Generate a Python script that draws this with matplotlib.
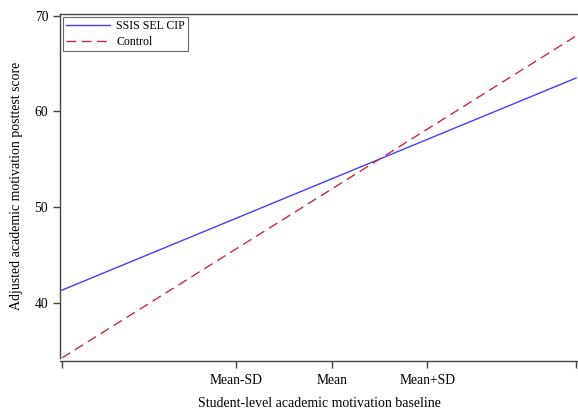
import numpy as np
import matplotlib.pyplot as plt

# x in SD units around the baseline mean
x_ends = [-2.83, 2.56]
ssis = [41.3, 63.5]
control = [34.2, 67.9]

tick_pos = [-2.83, -1, 0, 1, 2.56]
tick_labels = ["", "Mean-SD", "Mean", "Mean+SD", ""]

plt.rcParams['font.family'] = ['Liberation Serif', 'DejaVu Serif']

fig = plt.figure(figsize=(5.78, 4.09), dpi=100)
ax = fig.add_axes([0.1038, 0.1247, 0.8962, 0.8411])

ax.plot(x_ends, ssis, color='#4040ff', lw=1.0, label='SSIS SEL CIP')
ax.plot(x_ends, control, color='#cc2a3a', lw=1.0, dashes=(7, 4), label='Control')

ax.set_xlim(-2.85, 2.58)
ax.set_ylim(34.2, 70.2)
ax.set_yticks([40, 50, 60, 70])
ax.set_xticks(tick_pos)
ax.set_xticklabels(tick_labels)

ax.spines['right'].set_visible(False)
ax.spines['bottom'].set_position(('outward', 2.5))
for s in ['left', 'top', 'bottom']:
    ax.spines[s].set_color('#444444')
    ax.spines[s].set_linewidth(1.0)
ax.tick_params(axis='both', labelsize=9.8, length=5, color='#444444', width=1.0)
ax.tick_params(axis='x', pad=4)

ax.set_xlabel('Student-level academic motivation baseline', fontsize=10, labelpad=7)
ax.set_ylabel('Adjusted academic motivation posttest score', fontsize=10, labelpad=8)

leg = ax.legend(loc='upper left', fontsize=8.6, frameon=True, fancybox=False,
                edgecolor='#444444', borderaxespad=0.25, handlelength=3.7,
                handletextpad=0.5, borderpad=0.25, labelspacing=0.35)
leg.get_frame().set_linewidth(0.8)

fig.savefig('out.png', dpi=100)
